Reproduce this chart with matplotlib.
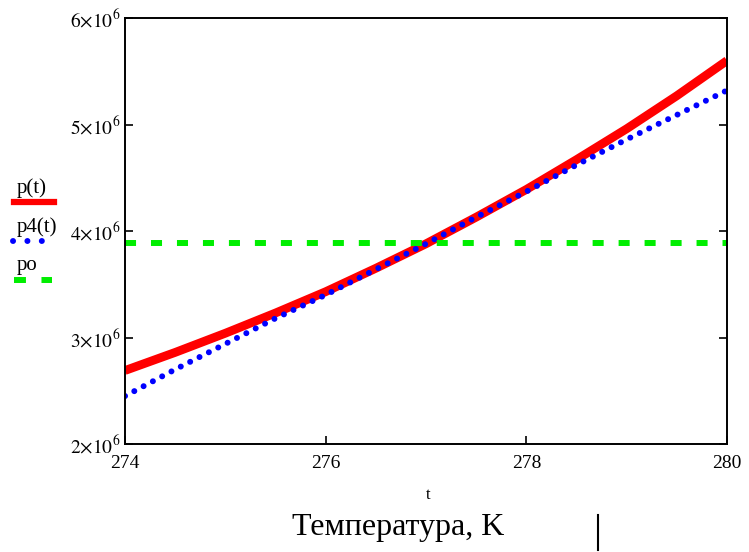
import numpy as np
import matplotlib
matplotlib.use('Agg')
import matplotlib.pyplot as plt
from matplotlib.lines import Line2D
from matplotlib.ticker import FuncFormatter

# temperatura (K) e pressioni (Pa)
t = [274, 274.5, 275, 275.5, 276, 276.5, 277, 277.5, 278, 278.5, 279, 279.5, 280]
p = [2.69e6, 2.86e6, 3.04e6, 3.23e6, 3.43e6, 3.65e6, 3.88e6, 4.13e6, 4.39e6,
     4.67e6, 4.96e6, 5.27e6, 5.60e6]
p4 = [2.45e6, 2.70e6, 2.94e6, 3.18e6, 3.40e6, 3.64e6, 3.88e6, 4.13e6, 4.37e6,
      4.62e6, 4.86e6, 5.09e6, 5.32e6]
po = 3.887e6

xticks = [274, 276, 278, 280]
yticks = [2e6, 3e6, 4e6, 5e6, 6e6]

W, H = 749, 552


def fx(x):  # pixel -> frazione figura
    return x / W


def fy(y):
    return 1 - y / H


def main():
    plt.rcParams['font.family'] = ['Liberation Serif', 'DejaVu Serif']
    plt.rcParams['mathtext.fontset'] = 'stix'

    fig = plt.figure(figsize=(W / 100, H / 100), dpi=100)
    ax = fig.add_axes([fx(125), fy(444), fx(727) - fx(125), fy(18) - fy(444)])

    ax.plot(t, p, color='red', lw=6.3, solid_capstyle='butt', solid_joinstyle='round')
    ax.plot(t, p4, color='blue', lw=4.3, linestyle=(0, (0.01, 1.75)),
            dash_capstyle='round')
    ax.plot([274, 280], [po, po], color='#00ee00', lw=4.3,
            linestyle=(0, (1.85, 2.5)), dash_capstyle='butt')

    ax.set_xlim(274, 280)
    ax.set_ylim(2e6, 6e6)
    ax.set_xticks(xticks)
    ax.set_yticks(yticks)
    ax.yaxis.set_major_formatter(FuncFormatter(
        lambda v, pos: r'$%d{\times}10^{6}$' % round(v / 1e6)))
    ax.tick_params(axis='both', direction='in', length=6, width=1.2,
                   labelsize=14, right=True, top=False)
    ax.tick_params(axis='x', pad=8)
    ax.tick_params(axis='y', pad=3)
    for s in ax.spines.values():
        s.set_linewidth(1.4)

    # legenda stile Mathcad
    fig.text(fx(17), fy(193), 'p(t)', fontsize=15)
    fig.add_artist(Line2D([fx(14), fx(54)], [fy(202), fy(202)], color='red', lw=4.5))
    fig.text(fx(17), fy(232), 'p4(t)', fontsize=15)
    fig.add_artist(Line2D([fx(13), fx(43)], [fy(241), fy(241)], color='blue', lw=4.3,
                          linestyle=(0, (0.01, 2.4)), dash_capstyle='round'))
    fig.text(fx(17), fy(270), 'po', fontsize=15)
    fig.add_artist(Line2D([fx(14), fx(52)], [fy(280), fy(280)], color='#00ee00', lw=4.3,
                          linestyle=(0, (2.0, 2.6))))

    fig.text(fx(428), fy(495), 't', fontsize=12, ha='center', va='center')
    fig.text(fx(398), fy(527), 'Температура, K', fontsize=23, ha='center', va='center')
    fig.add_artist(Line2D([fx(598), fx(598)], [fy(515), fy(550)], color='black', lw=1.5))

    fig.savefig('out.png', dpi=100)


if __name__ == "__main__":
    main()
